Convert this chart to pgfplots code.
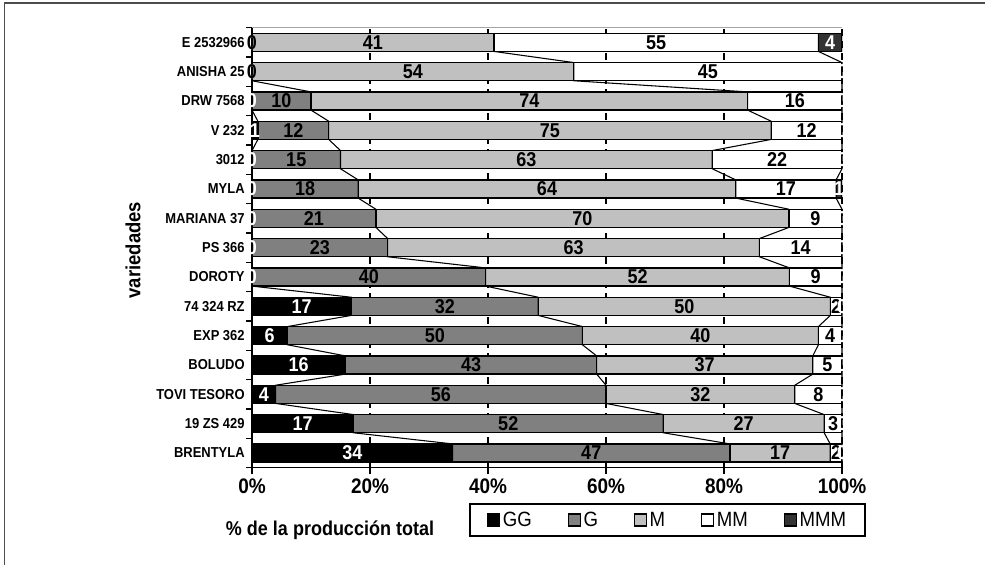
\documentclass[border=0pt]{standalone}
\usepackage{fontspec}
\setmainfont{Liberation Sans}[FakeStretch=0.9]
\usepackage{pgfplots}
\usepackage{pgfplotstable}
\pgfplotsset{compat=1.18}
\pgfplotsset{/pgf/number format/assume math mode=true}
\definecolor{cG}{HTML}{808080}
\definecolor{cM}{HTML}{C0C0C0}
\definecolor{cMMM}{HTML}{333333}

% raw values as labelled (bottom = BRENTYLA, top = E 2532966)
\pgfplotstableread{
i GG G M MM MMM
0 34 47 17 2 0
1 17 52 27 3 0
2 4 56 32 8 0
3 16 43 37 5 0
4 6 50 40 4 0
5 17 32 50 2 0
6 0 40 52 9 0
7 0 23 63 14 0
8 0 21 70 9 0
9 0 18 64 17 1
10 0 15 63 22 0
11 1 12 75 12 0
12 0 10 74 16 0
13 0 0 54 45 0
14 0 0 41 55 4
}\data
\pgfplotstablecreatecol[expr={\thisrow{GG}+\thisrow{G}+\thisrow{M}+\thisrow{MM}+\thisrow{MMM}}]{T}\data
\pgfplotstablecreatecol[expr={100*\thisrow{GG}/\thisrow{T}}]{nGG}\data
\pgfplotstablecreatecol[expr={100*\thisrow{G}/\thisrow{T}}]{nG}\data
\pgfplotstablecreatecol[expr={100*\thisrow{M}/\thisrow{T}}]{nM}\data
\pgfplotstablecreatecol[expr={100*\thisrow{MM}/\thisrow{T}}]{nMM}\data
\pgfplotstablecreatecol[expr={100*\thisrow{MMM}/\thisrow{T}}]{nMMM}\data

\begin{document}
\begin{tikzpicture}
\draw[line width=1.1pt, black!70] (3.4pt,0pt) -- (3.4pt,421.4pt) -- (738.75pt,421.4pt);

\begin{axis}[
  at={(189pt,73pt)}, anchor=south west,
  scale only axis, width=442.5pt, height=330pt,
  xbar stacked, bar width=0.62,
  xmin=0, xmax=100, ymin=-0.5, ymax=14.5,
  axis x line*=bottom, axis y line*=left,
  axis line style={-, line width=0.9pt, black},
  xtick={0,20,...,100},
  xticklabel={\pgfmathprintnumber{\tick}\%},
  xticklabel style={font=\bfseries\fontsize{15.8}{18}\selectfont},
  tick align=outside, major tick length=4.5pt,
  tick style={black, line width=0.9pt},
  ytick={-0.5,0.5,...,14.5}, yticklabels={},
  extra y ticks={0,1,...,14},
  extra y tick labels={BRENTYLA,19 ZS 429,TOVI TESORO,BOLUDO,EXP 362,74 324 RZ,DOROTY,PS 366,MARIANA 37,MYLA,3012,V 232,DRW 7568,ANISHA 25,E 2532966},
  extra y tick style={major tick length=0pt, yticklabel style={font=\bfseries\fontsize{10.8}{12}\selectfont, xshift=-2pt}},
  xmajorgrids,
  grid style={black, line width=0.8pt, dash pattern=on 5pt off 4pt},
  xlabel={\% de la producción total},
  xlabel style={at={(axis description cs:0.1322,-0.1416)}, anchor=center, font=\bfseries\fontsize{15}{18}\selectfont},
  ylabel={variedades},
  ylabel style={at={(axis description cs:-0.2017,0.4947)}, anchor=center, font=\bfseries\fontsize{15.4}{18}\selectfont},
  legend image code/.code={\draw[#1, line width=0.8pt] (0pt,-4.5pt) rectangle (9pt,4.5pt);},
  legend style={at={(axis description cs:0.3678,-0.0802)}, anchor=north west,
    draw=black, line width=1.2pt, legend columns=5,
    font=\fontsize{15.5}{17}\selectfont,
    inner xsep=13pt, inner ysep=5pt,
    nodes={inner sep=1pt},
    /tikz/every odd column/.append style={column sep=1pt},
    /tikz/every even column/.append style={column sep=26pt}},
]
\addplot[fill=black, draw=black, line width=0.9pt] table[x=nGG, y=i] {\data};
\addplot[fill=cG, draw=black, line width=0.9pt] table[x=nG, y=i] {\data};
\addplot[fill=cM, draw=black, line width=0.9pt] table[x=nM, y=i] {\data};
\addplot[fill=white, draw=black, line width=0.9pt] table[x=nMM, y=i] {\data};
\addplot[fill=cMMM, draw=black, line width=0.9pt] table[x=nMMM, y=i] {\data};
\legend{GG,G,M,MM,MMM}
\draw[gray!70, line width=1.2pt] (rel axis cs:0,1) -- (rel axis cs:1,1);
\end{axis}

\begin{axis}[
  at={(189pt,73pt)}, anchor=south west,
  scale only axis, width=442.5pt, height=330pt,
  xmin=0, xmax=100, ymin=-0.5, ymax=14.5,
  hide axis, clip=false,
  lbl/.style={draw=none, nodes near coords, point meta=explicit,
    nodes near coords align={center},
    every node near coord/.append style={anchor=center, inner sep=0pt,
      font=\bfseries\fontsize{15}{15}\selectfont, text=#1}},
]
% series lines (cumulative shares, bar half-height 0.31)
\addplot[black, line width=0.8pt] coordinates {(34,-0.31) (34,0.31) (17.17,0.69) (17.17,1.31) (4,1.69) (4,2.31) (15.84,2.69) (15.84,3.31) (6,3.69) (6,4.31) (16.83,4.69) (16.83,5.31) (0,5.69) (0,6.31) (0,6.69) (0,7.31) (0,7.69) (0,8.31) (0,8.69) (0,9.31) (0,9.69) (0,10.31) (1,10.69) (1,11.31) (0,11.69) (0,12.31) (0,12.69) (0,13.31) (0,13.69) (0,14.31)};
\addplot[black, line width=0.8pt] coordinates {(81,-0.31) (81,0.31) (69.70,0.69) (69.70,1.31) (60,1.69) (60,2.31) (58.42,2.69) (58.42,3.31) (56,3.69) (56,4.31) (48.51,4.69) (48.51,5.31) (39.60,5.69) (39.60,6.31) (23,6.69) (23,7.31) (21,7.69) (21,8.31) (18,8.69) (18,9.31) (15,9.69) (15,10.31) (13,10.69) (13,11.31) (10,11.69) (10,12.31) (0,12.69) (0,13.31) (0,13.69) (0,14.31)};
\addplot[black, line width=0.8pt] coordinates {(98,-0.31) (98,0.31) (96.97,0.69) (96.97,1.31) (92,1.69) (92,2.31) (95.05,2.69) (95.05,3.31) (96,3.69) (96,4.31) (98.02,4.69) (98.02,5.31) (91.09,5.69) (91.09,6.31) (86,6.69) (86,7.31) (91,7.69) (91,8.31) (82,8.69) (82,9.31) (78,9.69) (78,10.31) (88,10.69) (88,11.31) (84,11.69) (84,12.31) (54.55,12.69) (54.55,13.31) (41,13.69) (41,14.31)};
\addplot[black, line width=0.8pt] coordinates {(100,-0.31) (100,8.31) (99,8.69) (99,9.31) (100,9.69) (100,13.31) (96,13.69) (96,14.31)};
% data labels
\addplot[lbl=white] table[x expr={\thisrow{nGG}/2}, y=i, meta=GG] {\data};
\addplot[lbl=black] table[x expr={\thisrow{nGG}+\thisrow{nG}/2}, y=i, meta=G] {\data};
\addplot[lbl=black] table[x expr={\thisrow{nGG}+\thisrow{nG}+\thisrow{nM}/2}, y=i, meta=M] {\data};
\addplot[lbl=black] table[x expr={\thisrow{nGG}+\thisrow{nG}+\thisrow{nM}+\thisrow{nMM}/2}, y=i, meta=MM] {\data};
\addplot[lbl=white] table[x expr={100-\thisrow{nMMM}/2}, y=i, meta=MMM] {\data};
\end{axis}

\pgfresetboundingbox
\path[use as bounding box] (0pt,0pt) rectangle (738.75pt,423.75pt);
\end{tikzpicture}
\end{document}
